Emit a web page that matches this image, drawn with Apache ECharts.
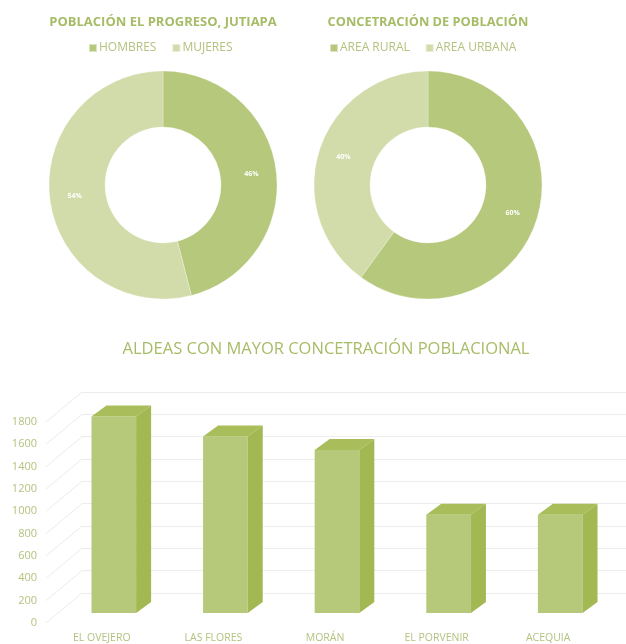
<!DOCTYPE html>
<html>
<head>
<meta charset="utf-8">
<script src="https://cdn.jsdelivr.net/npm/echarts@6/dist/echarts.min.js"></script>
<style>
html,body{margin:0;padding:0;background:#fff;}
#c{width:626px;height:644px;}
</style>
</head>
<body>
<div id="c"></div>
<script>
// ---- data ----
const sexLabels = ['HOMBRES', 'MUJERES'];
const sexValues = [46, 54];
const areaLabels = ['AREA RURAL', 'AREA URBANA'];
const areaValues = [60, 40];
const villages = ['EL OVEJERO', 'LAS FLORES', 'MORÁN', 'EL PORVENIR', 'ACEQUIA'];
const villagePop = [1760, 1580, 1460, 880, 880];
const yTicks = [0, 200, 400, 600, 800, 1000, 1200, 1400, 1600, 1800];

// ---- styles ----
const DARK = '#b6c87b';
const LIGHT = '#d2dcaa';
const TITLE = '#a7bc66';
const TEXT = '#b3c27f';
const FONT = '"Open Sans", "Liberation Sans", sans-serif';
const FRONT = '#b6c87a', SIDE = '#a3b753', TOP = '#a9bd5a';
const WALL_DX = 36, WALL_DY = -30;
const BAR_DX = 12, BAR_DY = -10;
const DEPTH_DX = 15, DEPTH_DY = -11;

const chart = echarts.init(document.getElementById('c'), null, {renderer: 'canvas'});

function donut(center, names, values, colors) {
  return {
    type: 'pie',
    center: center,
    radius: [58, 114],
    startAngle: 90,
    clockwise: true,
    silent: true,
    itemStyle: {borderColor: 'rgba(255,255,255,0.5)', borderWidth: 0.5},
    label: {
      show: true, position: 'inside', formatter: '{c}%',
      color: '#fff', fontSize: 7, fontWeight: 'bold', fontFamily: FONT
    },
    labelLine: {show: false},
    data: names.map((n, i) => ({name: n, value: values[i], itemStyle: {color: colors[i]}}))
  };
}

const option = {
  backgroundColor: '#fff',
  animation: false,
  title: [
    {text: 'POBLACIÓN EL PROGRESO, JUTIAPA', left: 158, top: 11, textAlign: 'center',
     textStyle: {color: TITLE, fontSize: 13, fontWeight: 'bold', fontFamily: FONT}},
    {text: 'CONCETRACIÓN DE POBLACIÓN', left: 423, top: 11, textAlign: 'center',
     textStyle: {color: TITLE, fontSize: 12.8, fontWeight: 'bold', fontFamily: FONT}},
    {text: 'ALDEAS CON MAYOR CONCETRACIÓN POBLACIONAL', left: 321, top: 336, textAlign: 'center',
     textStyle: {color: TITLE, fontSize: 16.5, fontWeight: 'normal', fontFamily: FONT}}
  ],
  legend: [
    {data: sexLabels, left: 83, top: 37, icon: 'rect', itemWidth: 8, itemHeight: 8, itemGap: 15,
     textStyle: {color: TEXT, fontSize: 12, fontFamily: FONT, padding: [0, 0, 0, -3]}},
    {data: areaLabels, left: 324, top: 37, icon: 'rect', itemWidth: 8, itemHeight: 8, itemGap: 15,
     textStyle: {color: TEXT, fontSize: 12, fontFamily: FONT, padding: [0, 0, 0, -3]}}
  ],
  grid: [
    {left: 46, width: 558, top: 422, height: 201},
    {left: 46 + WALL_DX, width: 560, top: 422 + WALL_DY, height: 201}
  ],
  xAxis: [
    {type: 'category', gridIndex: 0, data: villages,
     axisLine: {show: false}, axisTick: {show: false},
     axisLabel: {color: TEXT, fontSize: 10.5, fontFamily: FONT, margin: 10}},
    {type: 'value', gridIndex: 1, show: false, min: 0, max: 1}
  ],
  yAxis: [
    {type: 'value', gridIndex: 0, min: 0, max: 1800, interval: 200,
     axisLine: {show: false}, axisTick: {show: false}, splitLine: {show: false},
     axisLabel: {color: TEXT, fontSize: 11, fontFamily: FONT, margin: 9,
                 formatter: v => String(v)}},
    {type: 'value', gridIndex: 1, min: 0, max: 1800, interval: 200,
     axisLine: {show: false}, axisTick: {show: false}, axisLabel: {show: false},
     splitLine: {show: true, lineStyle: {color: '#ececec', width: 1}}}
  ],
  series: [
    donut([163, 185], sexLabels, sexValues, [DARK, LIGHT]),
    donut([428, 185], areaLabels, areaValues, [DARK, LIGHT]),
    {
      // left wall lines
      type: 'custom', xAxisIndex: 0, yAxisIndex: 0, silent: true,
      data: yTicks.map(v => [0, v]),
      renderItem: function (params, api) {
        const p = api.coord([0, api.value(1)]);
        const x = params.coordSys.x;
        return {type: 'line', shape: {x1: x, y1: p[1], x2: x + WALL_DX, y2: p[1] + WALL_DY},
                style: {stroke: '#ececec', lineWidth: 1}};
      }
    },
    {
      type: 'custom', xAxisIndex: 0, yAxisIndex: 0, silent: true,
      data: villagePop.map((v, i) => [i, v]),
      renderItem: function (params, api) {
        const base = api.coord([api.value(0), 0]);
        const top = api.coord([api.value(0), api.value(1)]);
        const bw = api.size([1, 0])[0] * 0.4;
        const x0 = base[0] + BAR_DX - bw / 2, x1 = x0 + bw;
        const yb = base[1] + BAR_DY, yt = top[1] + BAR_DY;
        return {type: 'group', children: [
          {type: 'rect', shape: {x: x0, y: yt, width: bw, height: yb - yt}, style: {fill: FRONT}},
          {type: 'polygon', shape: {points: [[x1, yb], [x1 + DEPTH_DX, yb + DEPTH_DY], [x1 + DEPTH_DX, yt + DEPTH_DY], [x1, yt]]}, style: {fill: SIDE}},
          {type: 'polygon', shape: {points: [[x0, yt], [x0 + DEPTH_DX, yt + DEPTH_DY], [x1 + DEPTH_DX, yt + DEPTH_DY], [x1, yt]]}, style: {fill: TOP}}
        ]};
      }
    }
  ]
};
chart.setOption(option);
</script>
</body>
</html>
